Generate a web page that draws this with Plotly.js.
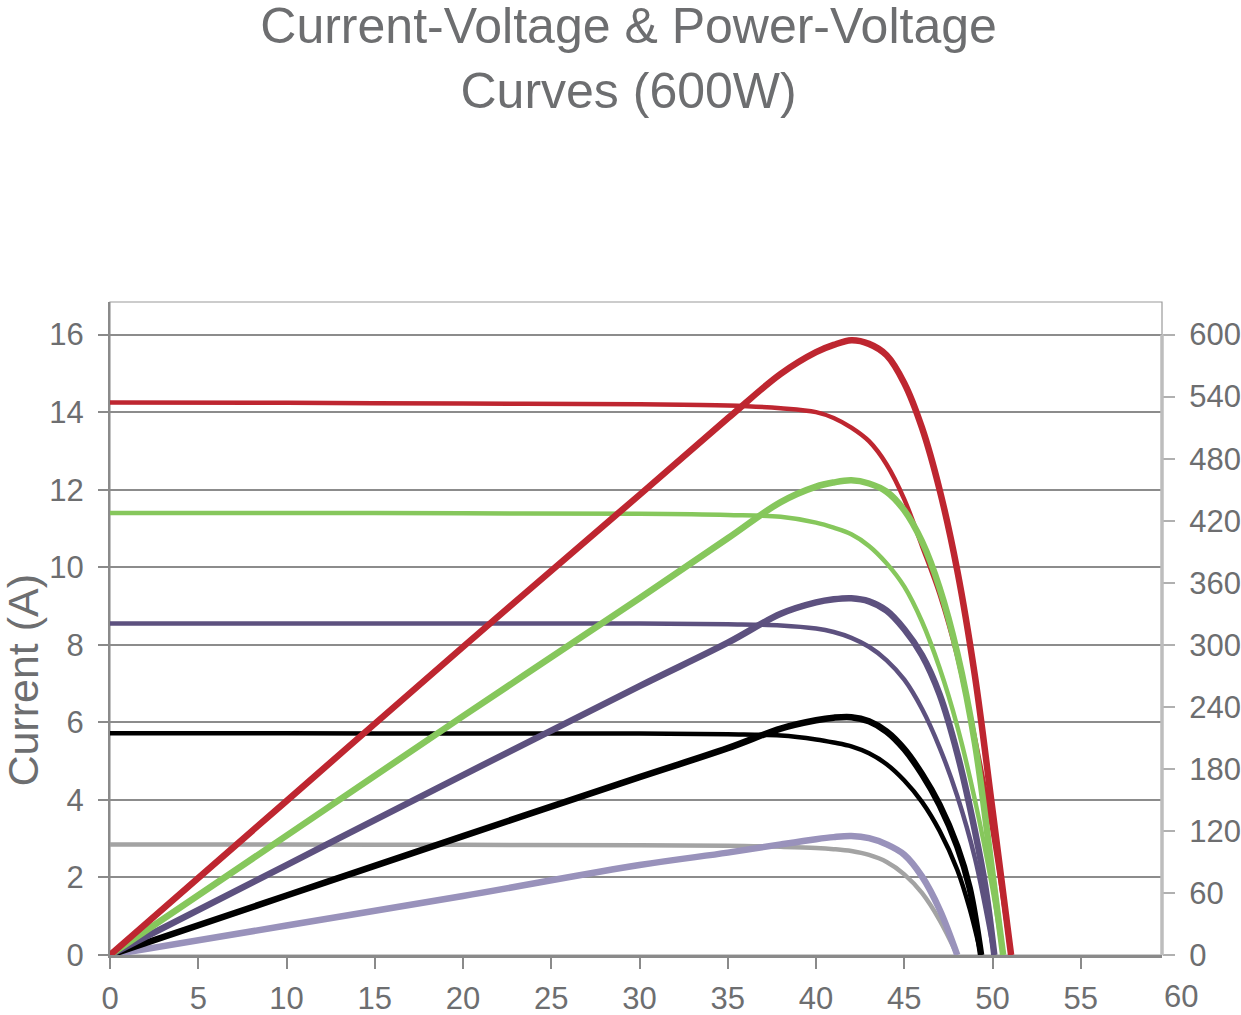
<!DOCTYPE html>
<html>
<head>
<meta charset="utf-8">
<script src="https://cdn.plot.ly/plotly-3.0.1.min.js"></script>
<style>
  html, body { margin: 0; padding: 0; background: #fff; }
  #chart { width: 1241px; height: 1015px; }
</style>
</head>
<body>
<div id="chart"></div>
<script>
// Voltage (V) with current (A) or power (W)
const redIvV = [0, 10, 20, 30, 35, 38, 40, 41, 42, 43, 44, 45, 46, 47, 48, 49, 50, 51.05];
const redIvI = [14.25, 14.24, 14.22, 14.2, 14.17, 14.1, 14.0, 13.85, 13.6, 13.25, 12.65, 11.75, 10.55, 9.3, 7.7, 5.6, 3.2, 0];
const redPvV = [0, 10, 20, 30, 35, 38, 40, 41, 42, 43, 44, 45, 46, 47, 48, 49, 50, 51.05];
const redPvP = [0, 149, 298, 445, 519, 562, 583, 590, 594.5, 591, 580, 553, 510, 450, 372, 270, 140, 0];

const greenIvV = [0, 10, 20, 30, 35, 38, 40, 41, 42, 43, 44, 45, 46, 47, 48, 49, 50, 50.6];
const greenIvI = [11.4, 11.4, 11.39, 11.38, 11.35, 11.3, 11.15, 11.02, 10.85, 10.55, 10.1, 9.5, 8.6, 7.4, 5.9, 4.0, 1.7, 0];
const greenPvV = [0, 10, 20, 30, 35, 38, 40, 41, 42, 43, 44, 45, 46, 47, 48, 49, 50, 50.6];
const greenPvP = [0, 115.5, 231, 345, 403, 438, 453, 457, 459, 456, 448, 430, 400, 355, 292, 205, 78, 0];

const purpleIvV = [0, 10, 20, 30, 35, 38, 40, 41, 42, 43, 44, 45, 46, 47, 48, 49, 50.1];
const purpleIvI = [8.55, 8.55, 8.55, 8.55, 8.53, 8.5, 8.42, 8.33, 8.18, 7.95, 7.6, 7.1, 6.35, 5.35, 4.1, 2.5, 0];
const purplePvV = [0, 10, 20, 30, 35, 38, 40, 41, 42, 43, 44, 45, 46, 47, 48, 49, 49.6, 50.1];
const purplePvP = [0, 87, 174, 260, 302, 330, 341, 344, 345, 342, 333, 315, 290, 252, 195, 120, 65, 0];

const blackIvV = [0, 10, 20, 30, 35, 38, 40, 41, 42, 43, 44, 45, 46, 47, 48, 48.7, 49.35];
const blackIvI = [5.72, 5.72, 5.71, 5.71, 5.69, 5.66, 5.56, 5.48, 5.38, 5.2, 4.92, 4.5, 3.95, 3.2, 2.2, 1.2, 0];
const blackPvV = [0, 10, 20, 30, 35, 38, 40, 41, 42, 43, 44, 45, 46, 47, 48, 48.7, 49.35];
const blackPvP = [0, 57.5, 115, 172, 200, 219, 227, 229.5, 230, 226, 216, 199, 175, 145, 105, 65, 0];

const grayIvV = [0, 10, 20, 30, 35, 38, 40, 41, 42, 43, 44, 45, 46, 47, 48];
const grayIvI = [2.85, 2.85, 2.84, 2.83, 2.82, 2.79, 2.76, 2.73, 2.68, 2.58, 2.4, 2.08, 1.6, 0.9, 0];
const lavPvV = [0, 10, 20, 30, 35, 38, 40, 41, 42, 43, 44, 45, 46, 47, 48];
const lavPvP = [0, 28.5, 57, 87, 99, 107, 112, 114, 115, 113, 107, 97, 76, 44, 0];

const xTickLabels = ['0', '5', '10', '15', '20', '25', '30', '35', '40', '45', '50', '55', '60'];

const textGray = '#6d6e70';
const font = 'Liberation Sans, Arial, sans-serif';

function iv(x, y, color) {
  return { x, y, mode: 'lines', line: { color, width: 4.5, shape: 'spline', smoothing: 1 }, hoverinfo: 'skip' };
}
function pv(x, y, color) {
  return { x, y, yaxis: 'y2', mode: 'lines', line: { color, width: 6.5, shape: 'spline', smoothing: 1 }, hoverinfo: 'skip' };
}

const traces = [
  iv(grayIvV, grayIvI, '#a3a3a3'),
  pv(lavPvV, lavPvP, '#9992bb'),
  iv(blackIvV, blackIvI, '#000000'),
  pv(blackPvV, blackPvP, '#000000'),
  iv(purpleIvV, purpleIvI, '#5d517f'),
  pv(purplePvV, purplePvP, '#5d517f'),
  iv(redIvV, redIvI, '#be2630'),
  iv(greenIvV, greenIvI, '#86c75c'),
  pv(greenPvV, greenPvP, '#86c75c'),
  pv(redPvV, redPvP, '#be2630'),
];

const tickVals = xTickLabels.slice(0, -1).map(Number);

const layout = {
  width: 1241,
  height: 1015,
  margin: { l: 110, r: 79, t: 302, b: 60 },
  paper_bgcolor: '#ffffff',
  plot_bgcolor: '#ffffff',
  showlegend: false,
  font: { family: font, color: textGray, size: 31 },
  title: {
    text: 'Current-Voltage & Power-Voltage<br>Curves (600W)',
    font: { family: font, size: 50, color: textGray },
    xref: 'container', x: 0.5065,
    yref: 'container', y: 0.958, yanchor: 'top',
    pad: { t: 0 },
  },
  xaxis: {
    range: [0, 59.6],
    tickvals: tickVals,
    ticktext: xTickLabels.slice(0, -1),
    ticks: 'outside', ticklen: 11, tickwidth: 2, tickcolor: '#8a8a8a',
    showline: true, linecolor: '#8a8a8a', linewidth: 2.5,
    showgrid: false, zeroline: false,
    tickfont: { size: 31, color: textGray },
    ticklabelstandoff: 3,
  },
  yaxis: {
    range: [0, 16.84],
    dtick: 2,
    ticks: 'outside', ticklen: 10, tickwidth: 2, tickcolor: '#8a8a8a',
    showline: true, linecolor: '#8a8a8a', linewidth: 2,
    showgrid: true, gridcolor: '#8c8c8c', gridwidth: 2,
    zeroline: false,
    tickfont: { size: 31, color: textGray },
    ticklabelstandoff: 8,
  },
  yaxis2: {
    overlaying: 'y',
    side: 'right',
    range: [0, 631.5],
    dtick: 60,
    ticks: 'outside', ticklen: 12, tickwidth: 2, tickcolor: '#b0b0b0',
    showline: false, showgrid: false, zeroline: false,
    tickfont: { size: 31, color: textGray },
    ticklabelstandoff: 8,
  },
  shapes: [
    { type: 'rect', xref: 'paper', yref: 'paper', x0: 0, x1: 1, y0: 0, y1: 1,
      line: { color: '#9a9a9a', width: 1.2 }, layer: 'below' },
    { type: 'line', xref: 'paper', yref: 'y2', x0: 1, x1: 1, y0: -10, y1: 600,
      line: { color: '#bdbdbd', width: 3.5 } },
  ],
  annotations: [
    { text: xTickLabels[xTickLabels.length - 1], xref: 'x', x: 59.6, xanchor: 'left',
      yref: 'paper', y: 0, yanchor: 'top', yshift: -22, showarrow: false,
      font: { size: 31, color: textGray } },
    { text: 'Current (A)', textangle: -90, xref: 'paper', x: -0.0822, xanchor: 'center',
      yref: 'paper', y: 0.421, yanchor: 'middle', showarrow: false,
      font: { size: 43, color: textGray } },
  ],
};

Plotly.newPlot('chart', traces, layout, { staticPlot: true });
</script>
</body>
</html>
